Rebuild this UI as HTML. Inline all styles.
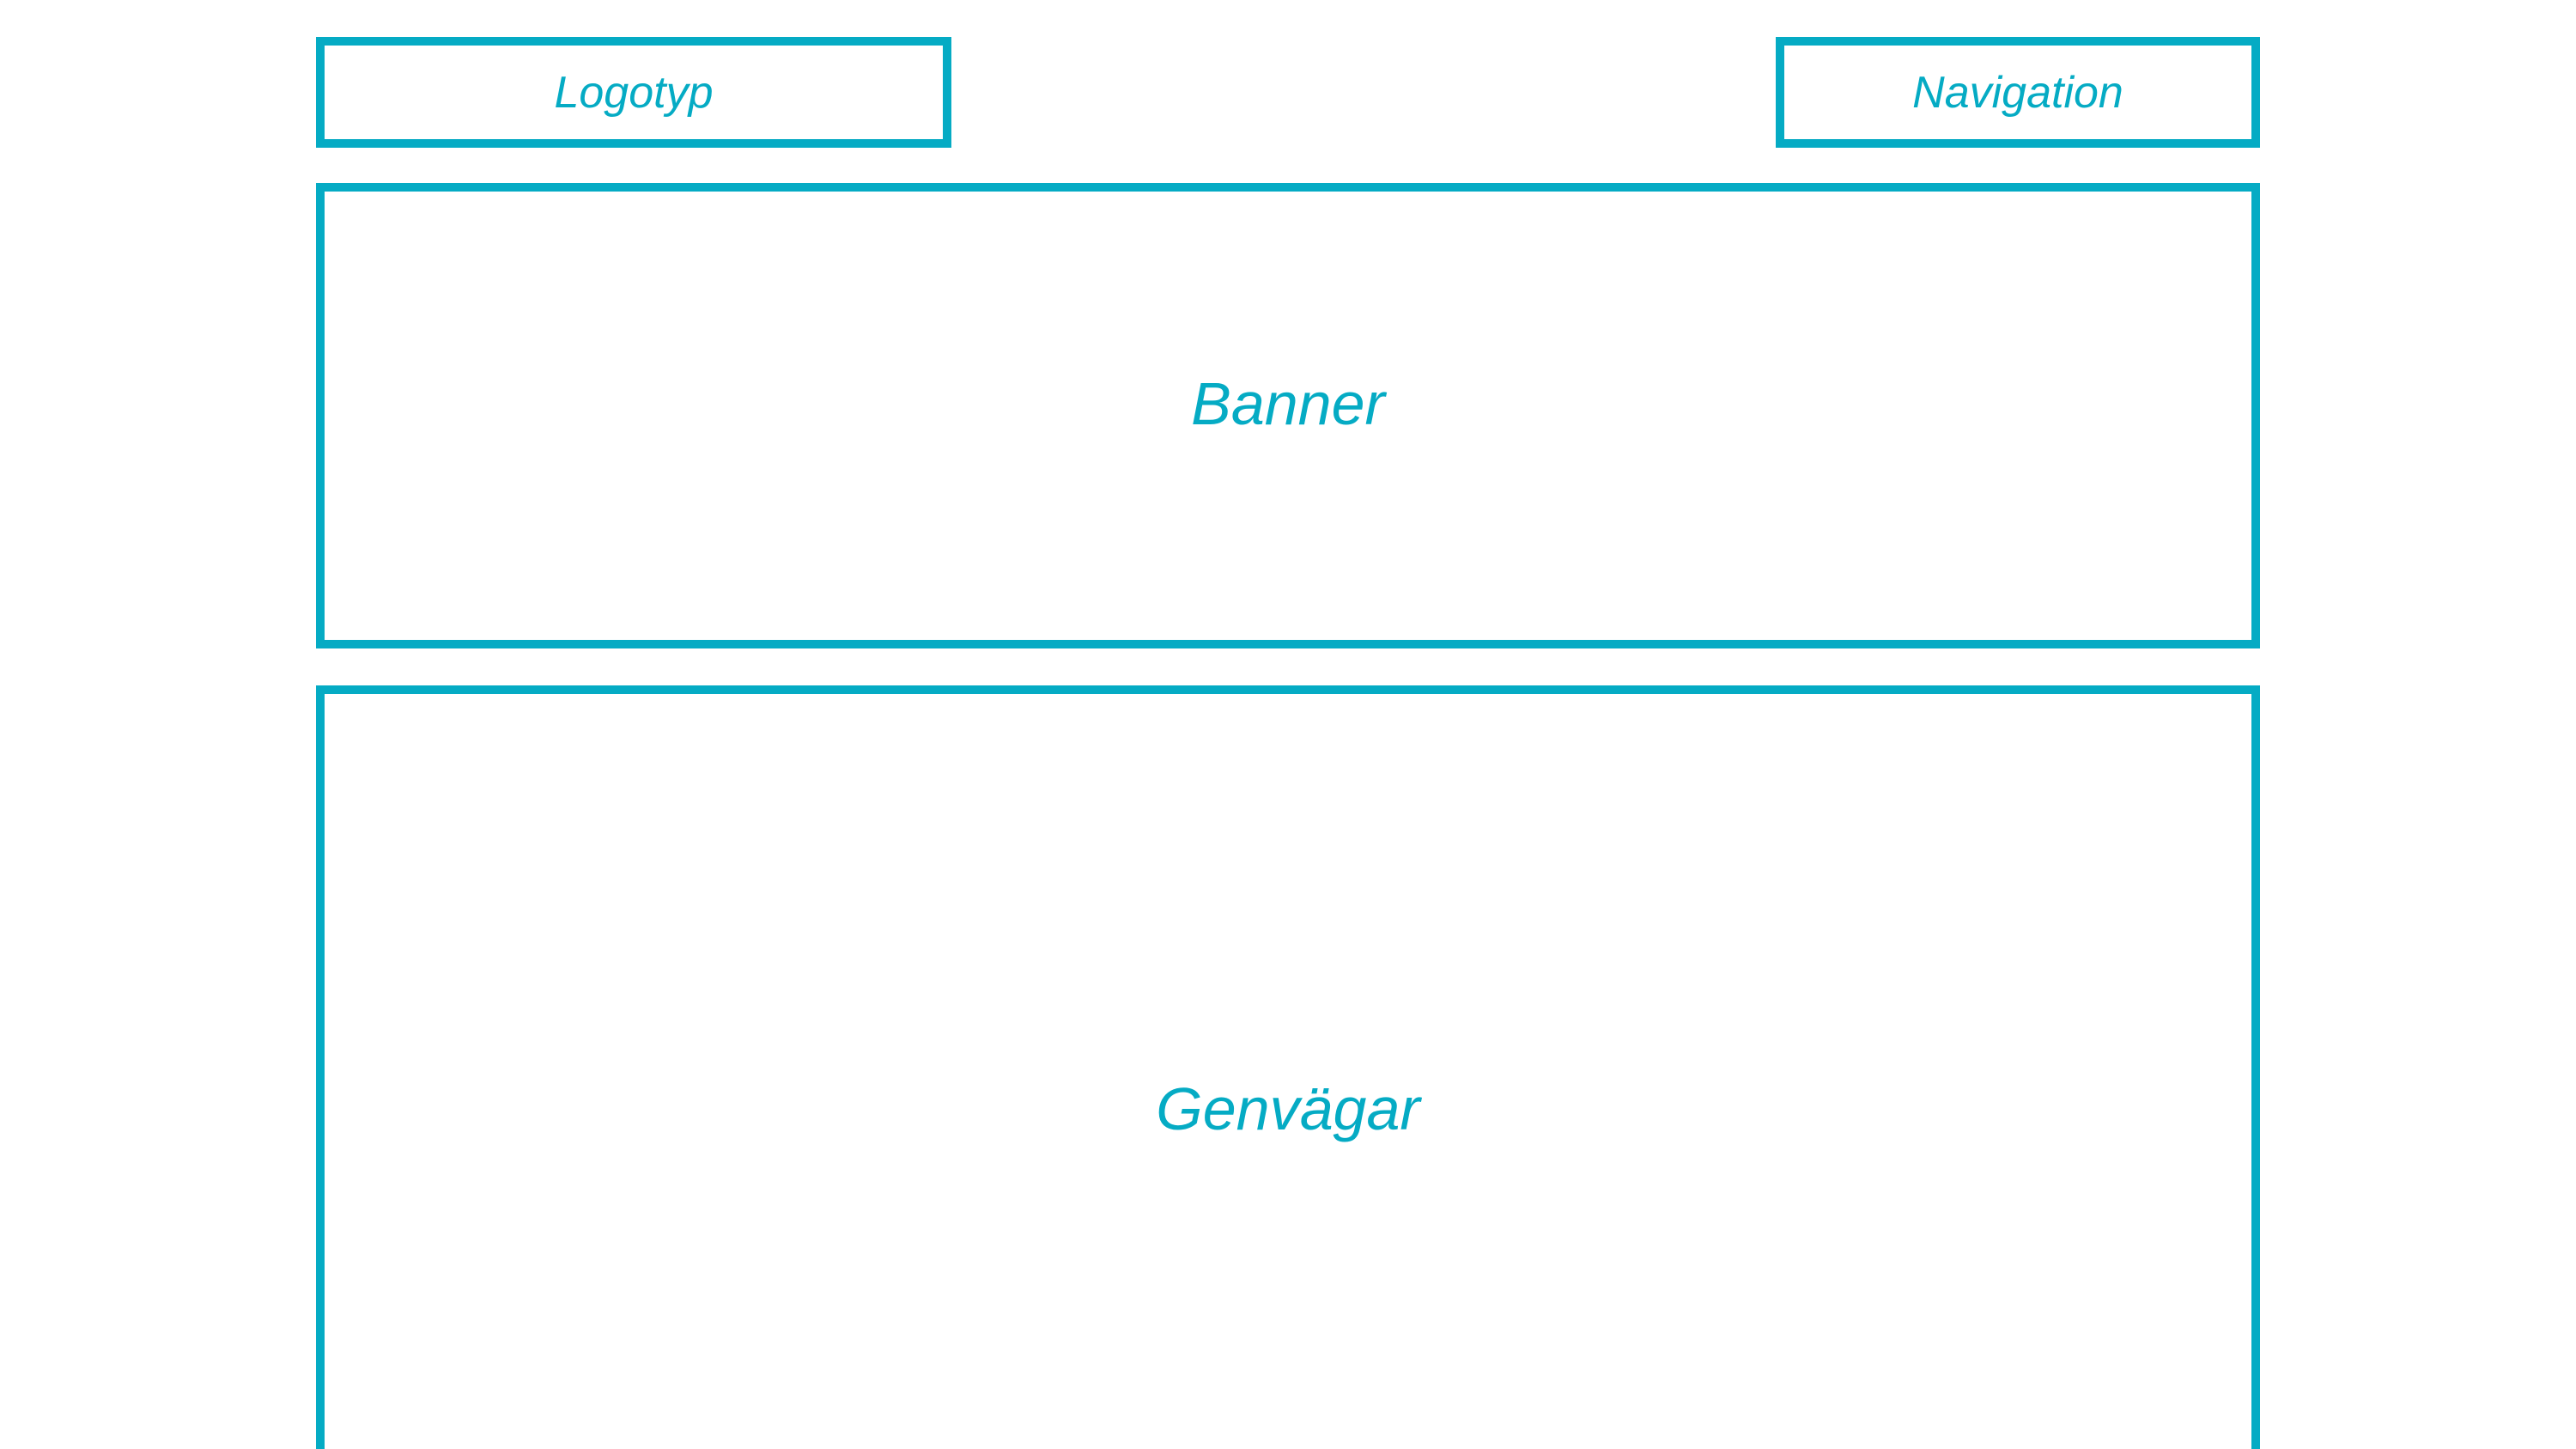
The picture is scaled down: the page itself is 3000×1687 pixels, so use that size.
<!DOCTYPE html>
<html><head><meta charset="utf-8"><style>
html,body{margin:0;padding:0;background:#fff;width:3000px;height:1687px;overflow:hidden;}
#w{position:relative;width:3000px;height:1687px;overflow:hidden;}
.b{position:absolute;box-sizing:border-box;border:10px solid #05abc4;display:flex;align-items:center;justify-content:center;color:#05abc4;font-family:"Liberation Sans",sans-serif;font-style:italic;}
</style></head><body><div id="w">
<div class="b" style="left:368px;top:43px;width:740px;height:129px;font-size:52px;">Logotyp</div>
<div class="b" style="left:2068px;top:43px;width:564px;height:129px;font-size:52px;">Navigation</div>
<div class="b" style="left:368px;top:213px;width:2264px;height:542px;font-size:70px;padding-bottom:28px;">Banner</div>
<div class="b" style="left:368px;top:798px;width:2264px;height:889px;border-bottom:none;font-size:70px;align-items:flex-start;padding-top:443px;">Genvägar</div>
</div></body></html>
